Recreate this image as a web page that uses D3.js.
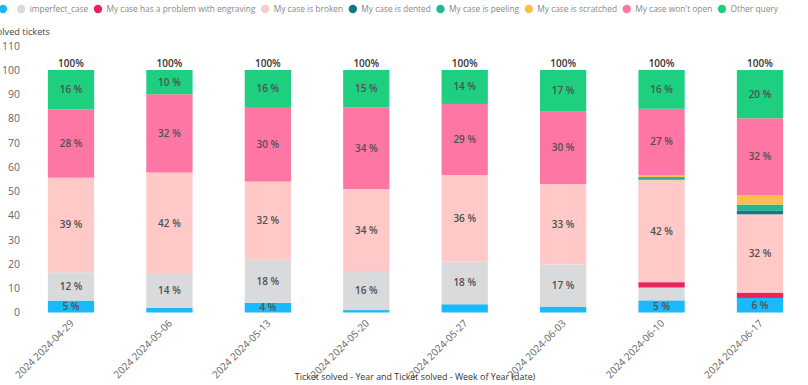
<!DOCTYPE html>
<html>
<head>
<meta charset="utf-8">
<script src="https://cdn.jsdelivr.net/npm/d3@7"></script>
<style>
  html, body { margin: 0; padding: 0; background: #fff; }
  svg { display: block; font-family: "Segoe UI", "Open Sans", sans-serif; }
</style>
</head>
<body>
<svg id="chart" width="808" height="385"></svg>
<script>
// ---------- data ----------
const weeks = ["2024 2024-04-29", "2024 2024-05-06", "2024 2024-05-13", "2024 2024-05-20",
               "2024 2024-05-27", "2024 2024-06-03", "2024 2024-06-10", "2024 2024-06-17"];
const seriesNames = ["", "imperfect_case", "My case has a problem with engraving", "My case is broken",
                     "My case is dented", "My case is peeling", "My case is scratched",
                     "My case won't open", "Other query"];
const blankValues      = [4.9, 2.0, 4.0, 1.0, 3.4, 2.4, 5.0, 6.0];
const imperfectValues  = [11.7, 13.9, 17.8, 16.1, 17.6, 17.4, 5.3, 0];
const engravingValues  = [0, 0, 0, 0, 0, 0, 2.2, 2.2];
const brokenValues     = [39.0, 41.8, 32.2, 33.8, 35.7, 33.2, 42.2, 32.3];
const dentedValues     = [0, 0, 0, 0, 0, 0, 0, 1.6];
const peelingValues    = [0, 0, 0, 0, 0, 0, 1.2, 2.4];
const scratchedValues  = [0, 0, 0, 0, 0, 0, 0.8, 3.8];
const wontOpenValues   = [28.2, 32.3, 30.4, 33.7, 29.3, 29.8, 27.3, 31.8];
const otherValues      = [16.2, 10.0, 15.6, 15.4, 14.0, 17.2, 16.0, 19.9];
const yTicks = [0, 10, 20, 30, 40, 50, 60, 70, 80, 90, 100, 110];
const yTitle = "Solved tickets";
const xTitle = "Ticket solved - Year and Ticket solved - Week of Year (date)";

const seriesValues = [blankValues, imperfectValues, engravingValues, brokenValues, dentedValues,
                      peelingValues, scratchedValues, wontOpenValues, otherValues];
const palette = ["#1AB9F9", "#D9DADC", "#EC2359", "#FEC9C6", "#117A7E",
                 "#21B897", "#FFBE4C", "#FD76A4", "#1FCF80"];

// ---------- build table ----------
const rows = weeks.map((w, i) => {
  const r = { week: w };
  seriesValues.forEach((vals, k) => { r["s" + k] = vals[i]; });
  return r;
});
const keys = seriesValues.map((_, k) => "s" + k);

const svg = d3.select("#chart");

const x = d3.scaleBand().domain(weeks).range([21.8, 809.2]).paddingInner(0.53).paddingOuter(0.265);
const y = d3.scaleLinear().domain([0, 110]).range([312.5, 45.75]);
const color = d3.scaleOrdinal().domain(keys).range(palette);

const stacked = d3.stack().keys(keys)(rows);

// ---------- legend ----------
const legendStart = 3, legendEnd = 778, textOffset = 8.5;
const legend = svg.append("g").attr("transform", `translate(${legendStart},9)`);
const items = seriesNames.map((name, k) => {
  const g = legend.append("g");
  g.append("circle").attr("r", 4.2).attr("fill", palette[k]);
  const t = g.append("text").attr("x", textOffset).attr("dy", "0.35em")
    .attr("font-size", 8.4).attr("fill", "#8a8886").text(name);
  const w = name ? t.node().getComputedTextLength() : 0;
  return { g, w };
});
const used = d3.sum(items, d => textOffset + d.w);
const gap = (legendEnd - legendStart - used) / (items.length - 1);
let lx = 0;
items.forEach(it => {
  it.g.attr("transform", `translate(${lx},0)`);
  lx += textOffset + it.w + gap;
});

// ---------- y axis ----------
const yAxis = svg.append("g").attr("transform", "translate(24,0)")
  .call(d3.axisLeft(y).tickValues(yTicks).tickSize(0).tickPadding(4));
yAxis.select(".domain").remove();
yAxis.selectAll("text").attr("font-size", 10.5).attr("fill", "#666").attr("font-family", "'Segoe UI','Open Sans',sans-serif");

svg.append("text").attr("x", 50).attr("y", 35).attr("text-anchor", "end")
  .attr("font-size", 9.2).attr("fill", "#444").text(yTitle);

// ---------- bars ----------
const layers = svg.append("g").selectAll("g").data(stacked).join("g")
  .attr("fill", d => color(d.key));
layers.selectAll("rect").data(d => d).join("rect")
  .attr("x", d => x(d.data.week))
  .attr("width", x.bandwidth())
  .attr("y", d => y(d[1]))
  .attr("height", d => Math.max(0, y(d[0]) - y(d[1])));

// segment labels
const labelG = svg.append("g");
weeks.forEach((w, i) => {
  let lastY = null;
  stacked.forEach(layer => {
    const d = layer[i];
    const v = d[1] - d[0];
    if (v < 3.95) return;
    const cy = y((d[0] + d[1]) / 2);
    if (lastY !== null && Math.abs(lastY - cy) < 14) return;
    lastY = cy;
    labelG.append("text")
      .attr("x", x(w) + x.bandwidth() / 2).attr("y", cy).attr("dy", "0.35em")
      .attr("text-anchor", "middle").attr("font-size", 10).attr("font-weight", 600)
      .attr("fill", "#505050").text(Math.round(v) + " %");
  });
});

// totals
rows.forEach(r => {
  const total = keys.reduce((s, k) => s + r[k], 0);
  svg.append("text")
    .attr("x", x(r.week) + x.bandwidth() / 2).attr("y", y(total) - 3)
    .attr("text-anchor", "middle").attr("font-size", 10).attr("font-weight", 600)
    .attr("fill", "#333").text(Math.round(total) + "%");
});

// ---------- x axis ----------
const xAxis = svg.append("g").attr("transform", `translate(0,${y(0)})`)
  .call(d3.axisBottom(x).tickSize(0).tickPadding(0));
xAxis.select(".domain").remove();
xAxis.selectAll("text")
  .attr("text-anchor", "end").attr("y", 0).attr("dy", "0.35em")
  .attr("transform", "translate(1,9) rotate(-45)")
  .attr("font-size", 10).attr("fill", "#666")
  .attr("font-family", "'Segoe UI','Open Sans',sans-serif");

svg.append("text").attr("x", 415).attr("y", 380).attr("text-anchor", "middle")
  .attr("font-size", 8.9).attr("fill", "#333").text(xTitle);
</script>
</body>
</html>
